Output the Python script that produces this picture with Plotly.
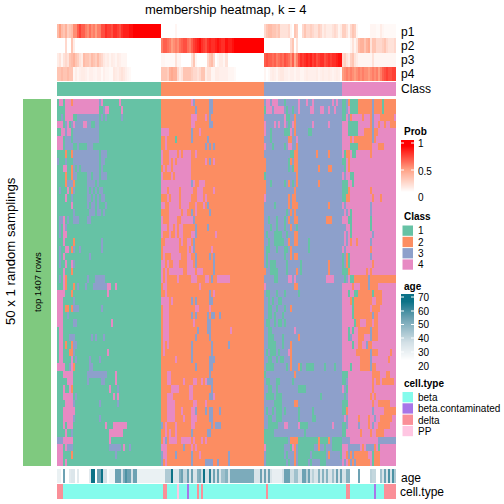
import plotly.graph_objects as go

W = H = 504
BLOCK = [52, 51, 39, 27]
CLASS_COLORS = ["#66C2A5", "#FC8D62", "#8DA0CB", "#E78AC3"]
CELL_LABELS = ["beta", "beta.contaminated", "delta", "PP"]
CELL_COLORS = ["#84FBEC", "#A875E8", "#FA8F98", "#FFC6E2"]
CLASS_LABELS = ["1", "2", "3", "4"]

rows_c1 = [
"1 4*2 1 4*3 2 4*13 3 4 1*8 4","1*4 4*17 1*2 3 4*2 1*6 4","1*2 3 1 4*4 1*2 3*11 1 3 1 3 1*7 3",
"4*3 1 3 4 1 3 4 3*4 4*2 3*2 1*2 3*2","1*2 4*2 3 4*2 1 3*13","4*3 1 3*3 1 3*13","4*3 1 3*4 1*2 3 1*4 3*3",
"1*4 2 1*2 2 3*13 1 3*3","3 1*3 3 1*3 3*13 1 3*2","1*3 4*2 1*2 2 3 1 3 1 3*9 1 3",
"1*4 2 1*2 2 3*2 1*5 3*2 1 3*3 1 3*3","1*4 2 3*3 2 1*6 3*4 1 3","1 3 1*3 4 1 2 3 1*6 3 1 3 1 3 1 3*2",
"1*4 4 1*2 3 1*7 3*2 1 3 1 3 1 3*2","1*7 4 1*7 3 1 3*2 1 3 1*3 3","1*8 3 1*7 3*3 1 3*2 1 3",
"1 3*2 4 1 3 1*2 3*3 1*4 3*2","1 3 1 4 3","1 3 1 4*2","1*3 4 1*4 2 1*13 3",
"1 3 1*2 4*2 1 2 3 1*2 3 1*10 3","1 3 1 4 1*12 3","1 3 1*2 4 1*2 4 3","1*3 4 1*3 2",
"1 3 1 4 2 1*10 3 1*3 3*5","1*3 4 2 1*3 2 1 3 1*3 3 1*3 3*7 4*2 1*2 4","4*4 1*3 2 1*17 4","4*3 1*5 3",
"4*3 1 2*2 1 2 3*3 1*11 3","4*3 1*2 3","4*3 1*5 3*2 1*17 4","1 4*2","1 4*2 1*3 3*3 1*8 3 1 3 1*3 3",
"1 4*2 1 2 1*2 2 3*2","1 4*2 1*3 2*2 3 1*16 4","1 4*2 1*4 4 1 3 1*6 3 1*4 3","4*4 1*2 3 4 2 1*7 3*2",
"1*3 4*5 1*7 3*10 1*4 4","1*5 4*3 1*7 3 1*6 3*2 1*5 4","1*3 4 1*2 4 2 1*18 4 1*3 3",
"1*3 4*5 1 3 1*18 4 1 4","1*4 4*4 3 1*12 3 1*8 3","1*3 4*6","1*3 4*5 3 1*12 3",
"1*3 4 1 4*3 1*16 4 1*3 4*7","1*4 4 1*2 3 1*18 4*7","3*3 4*5 1*18 4","4*3 1 4 3*3 1*18 3*6 1 4 1*2 3",
"4*3 1*4 2 1*21 3","4*3 1 4",
]
rows_c2 = [
"2*15 4 3 2*7 3*2","2*17 3 2*6 3*2","2*15 4*3 2*4 4 2 3","2*15 4*2 2*7 3*2","4*4 2*11 3 2*3 4",
"2*2 4 2*4 1 2*7 3 2*7 3","2*2 4 2*19 3 2 3 2 3","4 2*3 4*4 2 4 2 4*4 2*2 4","4 2*3 4 2 4 2 4*7 2*7 4 2 3 2 4",
"2 4 2 4*2 2 4*9 2*9","4 2*4 4 2 4*8","4*15 3 4 2*2 4*3","4*3 2 4*5 2 4*6 2*2 4*3 2*5 4",
"2*3 4 2 4*4 2 4*5 2*3 4*3 2 4","4*2 2*2 4*5 2 4*4 2*3 4 2*3 4 2 3","2*4 4*6 2 4*2 2*2 3 2 4 2*6 3",
"4 2*3 4*4 2*2 4*6 3","4*3 2 4*2 2 4 2 4*2 2*6 3 2*5 3","4 2*3 4 2*2 4 2 4*2 2*4 4*2 3 2*9 4",
"2*2 4*7 2 4 2*2 4*2 2 3","2 4*8 2*4 4 2 4 3 2*8 4","2 4 2*3 4*5 2*3 4*2 2*2 3 2*6 3 2 3",
"4*2 2 4 2*2 4*3 2*4 4*3 2 3 2*8 3","4 2 4 2 4*7 2*2 4*4 2 4*3 2*5 3",
"4 2 4 2*5 4 2*6 4*3 2*4 4*2 2 3 2*2 4*6","2 4*2 2*16 4","2*2 4 2*21 3 2 4","4*4 2 4 2*9 3 2 3 2*6 3*2",
"2 4*3 2*13 4*2 2*5 4","2 4*3 2*11 3 2 3 2*5 3 2 3*2 2*2 3","2 4*3 2*12 4 2*6 3*2",
"2 4*3 2*14 3 2*4 3*2 2*9 4","2 4*3 2*13 3 2*6 3","2 4 2 4 2*11 3 2*9 3 2*7 3","2 4 2*13 3 2*9 3",
"2*7 4 2*7 3 2*8 3*3","2*17 3 2*6 3*2","2*3 4*2 2*19 3","2*3 4*2 2*6 4 2*4 4*2 2*2 4 2 4 3*3",
"2*5 4*4 2*5 4*2 2*9 3","2*3 4*3 2*8 4*2 2*8 3*2 4","2*3 4*4 2*9 4*2 2*4 4",
"2*3 4*4 2*3 4 2*4 4*2 3 2*4 3 2 3*2 2*3 3","2*3 4*4 2*4 4 2*3 4*3 2*6 3*2","3 2 4 2*4 4 2*7 4*2 2*8 3 2 3*3",
"2*2 4 2 4 2*2 4 2*7 3 2*7 3*2","2 4 3 2 4*4 2*2 4*5 2 4 2*3 4 2 4","4*3 2*8 3 2*3 4 2 4",
"3 4*2 2*4 3 2*7 3 2*3 4 2*13 3","3 2 4 2*12 3 2*6 3*4 2*2 3 2*4 3",
]
rows_c3 = [
"3 4*2 3 4*3 3*3 1 3*6 4 3*3 4 3*2 4 3*9 4 3 4","1 4*3 3 4*5 3 1 3*2 1 3*2 4 3*5 4*2 3*3 4*2 3*2 4 3*2 4",
"3*10 4 1*2 3*2 2","4 3*4 4 3 4 3*2 4 3 1 3 4 2 3*8 4 3*7 4","4 3*2 1 3*6 1*3 4 3 2 3*6 1*2",
"3*3 1 3*8 2*2 3*2 4","4 3*3 1 3*5 1 3 4*2 3*2 2","3*13 1*2 2*2 3*9 2 3*5 2","2 3*11 1 2 3 2*2",
"2 3*11 1 3 1 2*2 3*10 2 3*4 2*2","1 3*15 2","2 3*2 1 3*6 1 3 2 3 1 3 2 3*10 2","2 3*14 2",
"4 3*11 2 3 2*2","3*5 1 3*6 2 3 2*3 3*15 2","3*11 1 3 2 3 2","3*2 1 3*3 1 3*3 1 3 2 3*2 2*2 3*14 2*3",
"3*3 1 3*2 1 3*3 1 3*2 2 3*2 1","3 1 3*3 1*4 3*2 1 3*3 2*2","3*2 1 3*2 1*5 3*2 2 3*2 2*2 3*5 1",
"3 1*2 3*3 1 3*3 1*2 3 2 3*8 1","3 1 3*8 1 3*2 2 3 2*2","3 1 3 1*3 3*5 1 3*6 1 3*13 2",
"2 3*2 1*4 3*4 1 3*4 2 3 1 3*13 2","3*5 1*2 3*5 4*2 3 4 3*15 4*4","4 3*14 2*2","3 1*2 3*3 1 3*3 1 3*6 1",
"3*2 1 3 1 3*2 1*2","3*2 1*2 3*2 1 3*3 1 3*2 2","3*2 1*2 3 1 3*3 1","3 1*2 3*2 1 3 1*2 3 1","3*2 1*2 3*11 4",
"3*2 1*3 3*4 1 3*7 2","3*2 1*4 3*3 1 3*3 2","3 1 3 1*3 3 1 3*4 4 2","3*2 1*2 3*2 1 3 1*2 3*3 2",
"3 1*4 3*6 1 3 2 3*3 2 1 3*2 1*4 3*5 1 3*4 1","1 3*14 2","3 1*2 3*3 1*2 3*6 1","3*2 1*2 3*2 1 3*10 1*4",
"3 1*4 3 1*3 3*19 1","3*5 1*4 3*6 2*2","3 1 3*2 1 3 1*3 3 1 3*6 1 3*6 1","3*2 1*2 3*2 1*3 3*8 1 3*6 1*2",
"3*2 1*5 3*3 4*2 3*5 4 1*4 3*12 4","1*5 3*15 1","1*12 3 2*4 1*10 2 1*4 2 3 1*5",
"4 1*9 3*3 1 4 2 3 1*8 3*2 2 3*2 1 3*3 1*5","3 1*9 3 1 3*3 2 3 1*6 3 1*7 3 2 3*5 1",
"3 1*10 3 1 3*2 2 3 1*5 3 1 3*4 1*3",
]
rows_c4 = [
"1*2 3 2 1*4 2*7 3 2*4 1 2*6","1*2 3 4 1*4 2*7 3 2*4 1 2*6","1*2 4 3 2 4*5 2 4*3 2 3 4*3 2*7",
"4*3 1*5 4*6 2 3 4*2 2 4*2 2 4*2 2*3","4*3 1*5 4*3 2*4 3 2*2","4*4 2 4 2*9 3 2","4*4 1*4 2*7 4*3 2*3",
"4 1 2*2 4 1*2 4*7 2","1*2 4 2","3 1 4 2","4 3 4*2 1*2","1*3 4*2 1","1*3 2 4*10 2","1*2 2*2 4*11 2 4*3 2",
"4 3 4*12 3","3 4 3 4 1 4*9 3","4*3 1*2 4*9 1","3*2 4*2 1 4*9 1","3 4 3 4 1 4*10 3","3 4 3 4 2 4*2 2 4*6 3",
"4 3 4*12 2","1 3 2 1 4*10 3","1 3 2 1 4*11 2","1*3 2 4*8 2 4 2","3 1 3 4 1*2 2*7 3 2*14",
"4*5 2 4*3 2*4 3 2*4","4*3 1 4*2 1*2 2*7 1 2*4","4*4 2 1 2*9 4*2 2*3","4*5 1 2*8 4 2*4","4*5 1 2*9 3 2*2",
"4*6 1 2*2 4*3 2*3 4 2*2","4*3 1 4 1 4*2 2*6 3 2*3","4*3 1 3 4*3 2*3 4*3 3 2*3","4*5 1 4*2 2*2 4*2 3 2*2",
"4*7 2*7 3 2*3 4*6 2","4*9 2*5 3 4*8 2","4*4 1 4*4 2*5 3 2*2","1*3 4*12 2*4 4*3 2*2","1*2 3 4*12 2 4 2*2 4 2*6",
"4 3 1 4*12 2","3 1 3 4*11 2 4 2","1*3 4*12 2 4*2 2*6","1*2 2 4*12 3 4*5 2*6","3 4 3 4*5 2 4*4 2 4*2 3 4*2 2*6",
"1*2 3 4*5 3 4*4 2 4 3 4*2 2*6","1*2 4*7 2 4*4 2 4*2 2*4","3*4 4*14 3*9","4*3 3*6 4 2 4 3*4 2 4 1",
"4*2 2 3 2 3 2*7 4*2 1 2*3","4 3 4 2 3 2 3 2*7 4 1 2*3",
]

p1_runs = ["35 50 35 30 40 25 30 35 55 55 70 80 70 70 60 55 65 55 60 50 60 60 75 75 85 80 80 75 85 85 80 75 85 90 90 90 95*2 100*14",
           "0*7 5 0*43",
           "20 30 35 35 30 30 25 30 15 15 15 15 20 5 0 30 25 0 0 20 30 20 20 25 20 15 15 25 20 10 15 10 10 10 15 20 15 5 10",
           "25 25 15 5 20 30 25 5 0*6 5 5 5 3 3 10 5 3 3 3 3 3 3"]
p2_runs = ["0*4 20 0 0 30 10 0*43",
           "60 70 70 65 60 50 55 60 55 65 70 75 75 65 60 70 80 85 90 95 85 80 75 85 90 85 85 90 95 90 85 85 95 90 90 95 100*15",
           "0*13 20 30 0 15 0*22",
           "0*4 5 15 5 15 35 40 40 30 40 45 15 30 30 20 20 20 25 30 20 15 15 15 20"]
p3_runs = ["10 15 5 15 20 15 30 35 40 30 25 15 10 35 30 30 25 35 30 25 35 25 20 12 8 10 5 10 8 5 10 8 5 5 5 0*17",
           "5 5 3 3 3 3 3 15 5 5 0*5 15 30 5 0*5 20 30 35 20 0 5 10 10 5 15 0*18",
           "70 75 70 70 65 70 60 65 70 65 75 70 65 55 70 45 60 75 85 80 85 90 85 90 80 85 75 80 85 85 75 80 85 80 85 85 90 95 95",
           "20 25 15 10 25 30 15 10 5 5 5 5 5 5 5 15 5 5 5 5 5 5 5 5 5 5 5"]
p4_runs = ["30 30 35 30 30 35 30 30 5 10 5 8 10 10 8 5 8 8 6 5 8 8 3 8 5 5 3 3 12 10 8 12 15 12 8 5 3 0*15",
           "30 30 30 25 40 45 40 40 20 10 15 30 30 30 30 25 20 20 15 20 30 30 10 15 15 5 5 10 10 8 8 8 8 5 5 5 3 0*14",
           "5 0 3 8 10 8 5 10 12 12 8 8 6 8 8 5 8 8 5 5 8 10 8 8 8 8 10 6 8 10 8 8 10 8 6 8 10 8 3",
           "50 55 60 55 60 55 50 55 60 55 60 55 55 50 55 60 55 60 50 60 70 75 80 75 75 80 80"]

age_runs = "27*2 20 55 20*2 30 32*2 20 30 20*5 30 70*2 20 55*2 70 35*2 22 25*3 55*3 35 52 60 55*2 35 55*2 27*14 " \
           "42*3 70 32*3 50 55 38*2 55 32 55 33*2 50 52 36 70 34*2 65 34 55 34 55 33 45*2 50 " \
           "33 52*12 33*3 55 33 55 33 55 33 28*5 35 55*3 36*2 45*2 34*2 55*2 40 55 34 40 33*2 50 33 50 34 50 33*2 45 33 55 33 55 34*2 50*2 " \
           "20*4 55 20*5 40 38*2 20*2 45 33 55 33 60 34 60 42"
cell_runs = "3*3 1*50 3*2 1*5 4 1*4 2 1*4 3 1 3 1*31 3 1*39 3*2 1*12 2 1*4 3*8"

prob_ticks = [1, 0.5, 0]
age_ticks = [70, 60, 50, 40, 30, 20]
prob_ramp = [[1, 1], [0.75, 0.75], [0.5, 0.5], [0.25, 0.25], [0, 0]]
age_ramp = [[71, 71], [60, 60], [50, 50], [40, 40], [30, 30], [20, 20]]

PROB_SCALE = [[0, "#ffffff"], [0.5, "#ff9e81"], [1, "#ff0000"]]
AGE_SCALE = [[0, "#ffffff"], [0.3, "#d3e0e6"], [0.7, "#6da2b3"], [1, "#0c7287"]]
FONT = "Liberation Sans"


def px(x):
    return x / W


def py(y):
    return 1 - y / H


def expand(spec, n=None, fill=None, cast=int):
    out = []
    for tok in spec.split():
        v, _, c = tok.partition("*")
        out += [cast(v)] * (int(c) if c else 1)
    if n is not None:
        out = (out + [fill] * n)[:n]
    return out


def row_cells(i):
    cells = []
    for k, rows in enumerate((rows_c1, rows_c2, rows_c3, rows_c4)):
        cells += expand(rows[i], BLOCK[k], k + 1)
    return cells


def p_row(runs):
    cells = []
    for k, r in enumerate(runs):
        cells += [v / 100 for v in expand(r, BLOCK[k], 0)]
    return cells


def discrete(colors):
    n = len(colors)
    s = []
    for i, c in enumerate(colors):
        s += [[i / n, c], [(i + 1) / n, c]]
    return s


fig = go.Figure()
axis_id = [0]


def panel(x0, x1, y0, y1, z, scale, zmin, zmax, smooth=False):
    axis_id[0] += 1
    n = axis_id[0]
    sfx = "" if n == 1 else str(n)
    fig.add_trace(go.Heatmap(z=z, colorscale=scale, zmin=zmin, zmax=zmax, showscale=False,
                             hoverinfo="skip", xaxis="x" + sfx, yaxis="y" + sfx,
                             zsmooth="best" if smooth else False))
    fig.layout["xaxis" + sfx] = dict(domain=[px(x0), px(x1)], visible=False, anchor="y" + sfx, fixedrange=True)
    fig.layout["yaxis" + sfx] = dict(domain=[py(y1), py(y0)], visible=False, anchor="x" + sfx,
                                     autorange="reversed", fixedrange=True)


def text(x, y, s, size=10, bold=False, anchor="left", angle=0):
    fig.add_annotation(x=px(x), y=py(y), xref="paper", yref="paper", text=f"<b>{s}</b>" if bold else s,
                       showarrow=False, xanchor=anchor, yanchor="middle", textangle=angle,
                       font=dict(family=FONT, size=size, color="#000000"))


def rect(x0, x1, y0, y1, color):
    fig.add_shape(type="rect", xref="paper", yref="paper", x0=px(x0), x1=px(x1), y0=py(y1), y1=py(y0),
                  fillcolor=color, line_width=0)


def tick(x0, x1, y):
    fig.add_shape(type="line", xref="paper", yref="paper", x0=px(x0), x1=px(x1), y0=py(y), y1=py(y),
                  line=dict(color="#ffffff", width=1))


MX0, MX1 = 57, 396
pz = [p_row(p1_runs), p_row(p2_runs), p_row(p3_runs), p_row(p4_runs)]
panel(MX0, MX1, 24, 81, pz, PROB_SCALE, 0, 1)
class_row = []
for k, b in enumerate(BLOCK):
    class_row += [k + 1] * b
panel(MX0, MX1, 82, 96, [class_row], discrete(CLASS_COLORS), 0.5, 4.5)
panel(MX0, MX1, 99, 466, [row_cells(i) for i in range(50)], discrete(CLASS_COLORS), 0.5, 4.5)
panel(MX0, MX1, 469, 483, [expand(age_runs, 169, 30)], AGE_SCALE, 20, 70)
panel(MX0, MX1, 484, 499, [expand(cell_runs, 169, 1)], discrete(CELL_COLORS), 0.5, 4.5)
panel(401, 414, 140, 197, prob_ramp, PROB_SCALE, 0, 1, smooth=True)
panel(401, 414, 294, 366, age_ramp, AGE_SCALE, 20, 70, smooth=True)

rect(23, 51, 99, 466, "#7FC97F")

text(226, 9, "membership heatmap, k = 4", size=13, anchor="center")
for i, lab in enumerate(["p1", "p2", "p3", "p4"]):
    text(399, 31.5 + i * 14.3, lab, size=12)
text(399, 89, "Class", size=12)
text(399, 478, "age", size=12)
text(398, 492, "cell.type", size=12)
text(10, 251, "50 x 1 random samplings", size=13.2, anchor="center", angle=-90)
text(37.5, 282.5, "top 1407 rows", size=9.5, anchor="center", angle=-90)

text(402, 132, "Prob", size=10, bold=True)
for v, y in zip(prob_ticks, [143, 171, 198]):
    text(416, y, str(v), size=10)
for y in (143, 170):
    tick(401, 404, y)
    tick(411, 414, y)

text(402, 216, "Class", size=10, bold=True)
for i, lab in enumerate(CLASS_LABELS):
    y0 = 225.5 + i * 11.3
    rect(402.5, 413, y0, y0 + 10.3, CLASS_COLORS[i])
    text(416, y0 + 5.5, lab, size=10)

text(402, 286, "age", size=10, bold=True)
for v, y in zip(age_ticks, [297, 311, 324.5, 338, 352, 366]):
    text(416, y, str(v), size=10)
    if v > 20:
        tick(401, 404, y)
        tick(411, 414, y)

text(402, 383, "cell.type", size=10, bold=True)
for i, lab in enumerate(CELL_LABELS):
    y0 = 392 + i * 11.3
    rect(402.5, 413, y0, y0 + 10.3, CELL_COLORS[i])
    text(416, y0 + 5.5, lab, size=10)

fig.update_layout(width=W, height=H, margin=dict(l=0, r=0, t=0, b=0), paper_bgcolor="#ffffff",
                  plot_bgcolor="#ffffff", showlegend=False)
fig.write_html("out.html", config=dict(displayModeBar=False),
               post_script="document.body.style.margin='0';document.documentElement.style.overflow='hidden';")
